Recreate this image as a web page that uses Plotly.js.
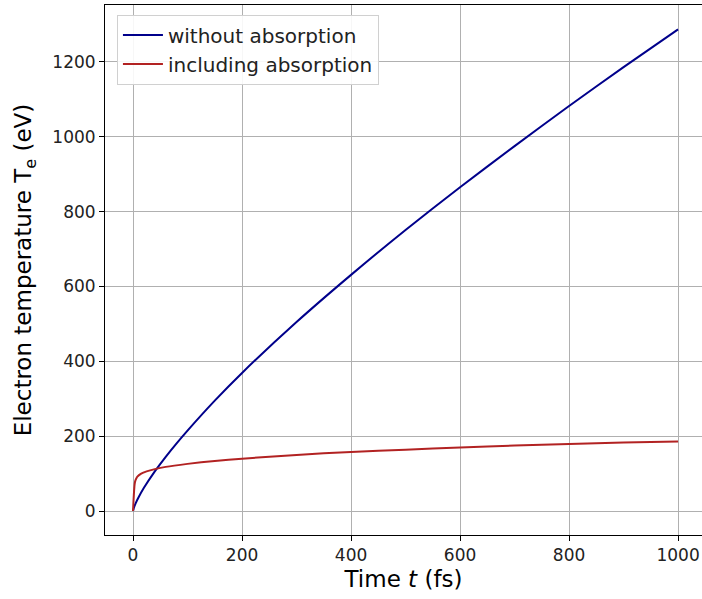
<!DOCTYPE html>
<html>
<head>
<meta charset="utf-8">
<script src="https://cdn.plot.ly/plotly-3.0.1.min.js"></script>
<style>html,body{margin:0;padding:0;background:#fff;}</style>
</head>
<body>
<div id="chart" style="width:702px;height:599px;"></div>
<script>
// Data
const tBlue = [0, 2, 5, 10, 20, 40, 60, 80, 100, 150, 200, 300, 400, 500, 600, 700, 800, 900, 1000];
const teBlue = [0, 10, 21, 36, 62, 106, 145, 181, 215, 295, 369, 505, 631, 751, 865, 975, 1082, 1186, 1287];
const tRed = [0, 1, 2, 3, 4, 6, 8, 15, 25, 40, 60, 100, 150, 200, 300, 400, 500, 600, 700, 800, 900, 1000];
const teRed = [0, 30, 55, 72, 80, 87, 92, 100, 106, 112, 118, 126, 134, 140, 150, 158, 164, 170, 175, 179, 183, 186];
const seriesNames = ["without absorption", "including absorption"];

const font = "DejaVu Sans, sans-serif";
const traces = [
  {x: tBlue, y: teBlue, name: seriesNames[0], legendgroup: "a", mode: "lines", line: {color: "#00008b", width: 2, shape: "spline", smoothing: 0.6}},
  {x: tRed, y: teRed, name: seriesNames[1], legendgroup: "b", mode: "lines", line: {color: "#b22222", width: 2, shape: "spline", smoothing: 0.4}}
];
const layout = {
  width: 702, height: 599,
  margin: {l: 105, r: 0, t: 5, b: 64},
  paper_bgcolor: "#fff", plot_bgcolor: "#fff",
  font: {family: font, size: 17, color: "#000"},
  showlegend: true,
  legend: {x: 0.02, y: 0.982, xanchor: "left", yanchor: "top", bgcolor: "rgba(255,255,255,0.9)", bordercolor: "#d0d0d0", borderwidth: 1, font: {size: 20, family: font, color: "#222"}, traceorder: "grouped", tracegroupgap: 0, itemwidth: 40},
  xaxis: {
    range: [-51.4, 1043.9], tickvals: [0, 200, 400, 600, 800, 1000],
    showgrid: true, gridcolor: "#b0b0b0", gridwidth: 1, zeroline: false,
    showline: true, linecolor: "#000", linewidth: 1, mirror: true,
    ticks: "outside", ticklen: 5, tickcolor: "#000",
    tickfont: {size: 17, family: font, color: "#222"},
    title: {text: "Time <i>t</i> (fs)", font: {size: 23, family: font, color: "#000"}, standoff: 6}
  },
  yaxis: {
    range: [-64, 1352], tickvals: [0, 200, 400, 600, 800, 1000, 1200],
    showgrid: true, gridcolor: "#b0b0b0", gridwidth: 1, zeroline: false,
    showline: true, linecolor: "#000", linewidth: 1,
    ticks: "outside", ticklen: 5, tickcolor: "#000",
    tickfont: {size: 17, family: font, color: "#222"},
    title: {text: "Electron temperature T<sub>e</sub> (eV)", font: {size: 23, family: font, color: "#000"}, standoff: 14}
  }
};
Plotly.newPlot("chart", traces, layout, {displayModeBar: false, staticPlot: true});
</script>
</body>
</html>
